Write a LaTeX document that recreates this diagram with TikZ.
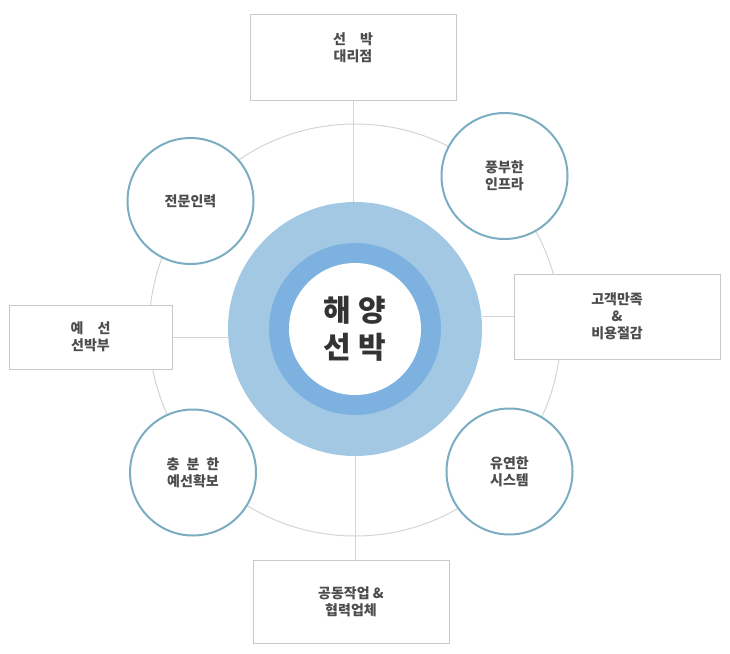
\documentclass[tikz,border=0pt]{standalone}
\usepackage{fontspec}
\newfontfamily\kofont{Noto Sans CJK KR}
\usetikzlibrary{backgrounds}

\definecolor{outerblue}{HTML}{A3C8E4}
\definecolor{innerblue}{HTML}{7DB2E0}
\definecolor{ringline}{HTML}{7BADC2}
\definecolor{boxline}{HTML}{C8C8C8}
\definecolor{orbitline}{HTML}{D4D4D4}
\definecolor{labeltext}{HTML}{4D4D4D}
\definecolor{hubtext}{HTML}{333333}

\begin{document}
\begin{tikzpicture}[
    x=0.75pt, y=-0.75pt,
    font=\kofont\bfseries\fontsize{10.5pt}{12.75pt}\selectfont,
    infobox/.style={draw=boxline, line width=0.75pt, fill=white, align=center, text=labeltext, inner sep=0pt},
    feature/.style={circle, draw=ringline, line width=1.5pt, fill=white, minimum size=94.5pt, align=center, text=labeltext, inner sep=0pt},
    orbit/.style={circle, draw=orbitline, line width=0.75pt, minimum size=309pt, inner sep=0pt},
    link/.style={draw=orbitline, line width=0.75pt},
    hubdisc/.style={circle, inner sep=0pt},
  ]
    \useasboundingbox (0,0) rectangle (730,653);

    % centre
    \node[hubdisc, fill=outerblue, minimum size=190.5pt] (hub) at (355,329) {};
    \node[hubdisc, fill=innerblue, minimum size=129pt] (ring) at (hub.center) {};
    \node[hubdisc, fill=white, minimum size=99pt, align=center, text=hubtext,
          font=\kofont\bfseries\fontsize{22.5pt}{27.75pt}\selectfont] (core) at (hub.center) {해 양\\선 박};

    % circles
    \node[feature] (expert) at (190.5,201) {전문인력};
    \node[feature] (infra) at (504.5,176) {풍부한\\인프라};
    \node[feature] (budget) at (193,472.5) {충\enspace 분\enspace 한\\예선확보};
    \node[feature] (system) at (509.5,471.5) {유연한\\시스템};

    % boxes
    \node[infobox, minimum width=154.5pt, minimum height=64.5pt] (agency) at (353,57) {선\quad 박\\대리점\\[1.5pt]};
    \node[infobox, minimum width=122.25pt, minimum height=48pt] (reserve) at (90.5,337) {예\quad 선\\선박부};
    \node[infobox, minimum width=154.5pt, minimum height=63.75pt] (customer) at (617,316.5) {고객만족\\\&\\비용절감};
    \node[infobox, minimum width=147pt, minimum height=62.25pt] (partner) at (351,601.5) {공동작업 \&\\협력업체};

    \begin{scope}[on background layer]
      \node[orbit] (track) at (355,330) {};
      \draw[link] (agency.south) -- (agency.south |- hub.north);
      \draw[link] (hub.south) -- (hub.south |- partner.north);
      \draw[link] (reserve.east) -- (reserve.east -| hub.west);
      \draw[link] (customer.west) -- (customer.west -| hub.east);
    \end{scope}
  \end{tikzpicture}
\end{document}
